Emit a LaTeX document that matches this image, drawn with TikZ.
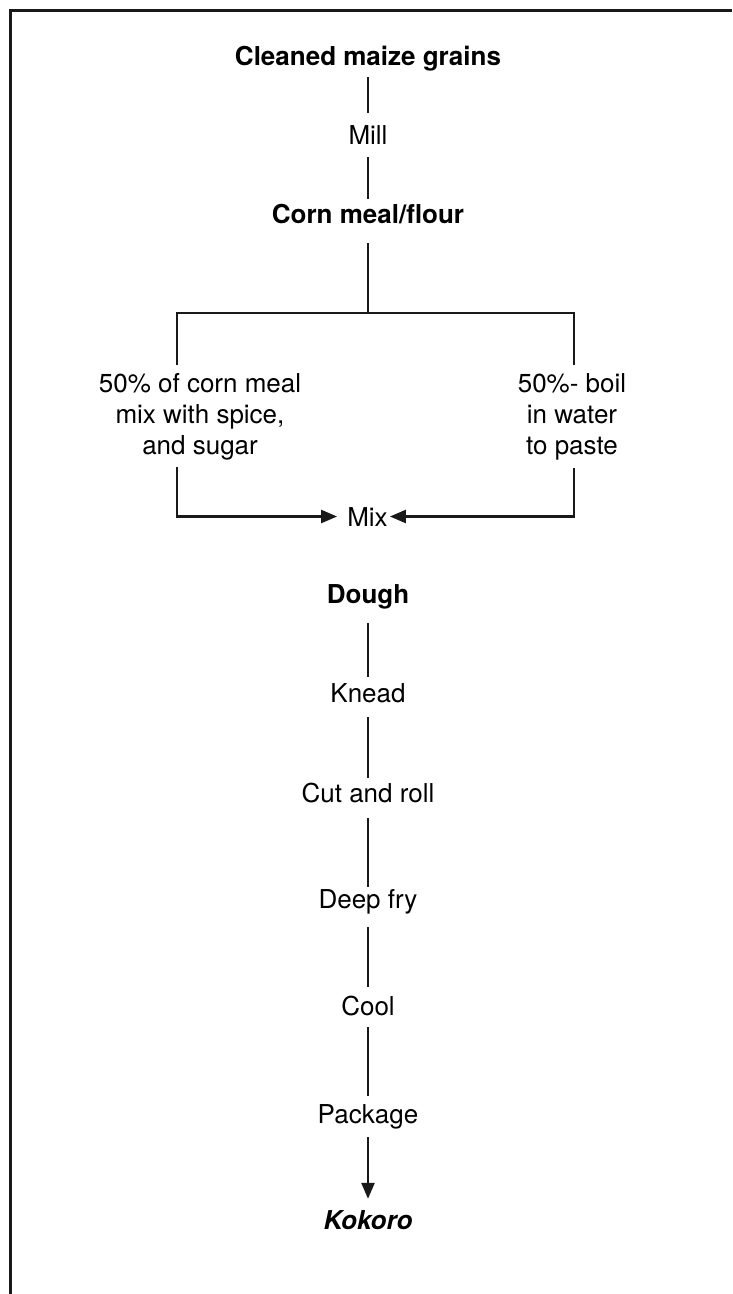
\documentclass[tikz,border=0pt]{standalone}
\usepackage{fontspec}
\setmainfont{TeX Gyre Heros}
\usetikzlibrary{arrows.meta}
\begin{document}
\begin{tikzpicture}[x=1pt,y=-1pt,
  lbl/.style={inner sep=0pt, text height=19pt, text depth=0pt, anchor=base,
              font=\fontsize{26}{31}\selectfont},
  ttl/.style={lbl, font=\fontsize{26}{31}\selectfont\bfseries},
  para/.style={inner sep=0pt, anchor=north, align=center,
               font=\fontsize{26}{31}\selectfont},
  conn/.style={line width=2.4pt, black!90},
  tip/.style={-{Triangle[length=16pt,width=13pt]}},
  frame/.style={line width=3pt, black!90}]

% page and frame
\fill[white] (0,0) rectangle (732,1294);
\useasboundingbox (0,0) rectangle (732,1294);
\draw[frame] (10,1294) -- (10,10) -- (732,10);

% upper part: milling
\node[ttl] (grains) at (368,65)  {Cleaned maize grains};
\node[lbl] (mill)   at (368,144) {Mill};
\node[ttl] (meal)   at (368,223) {Corn meal/flour};

% split into two halves
\coordinate (split) at (368,313);
\coordinate (lt) at (177,313);
\coordinate (rt) at (574,313);
\node[para] (half1) at (200,373) {50\% of corn meal\\mix with spice,\\and sugar};
\node[para] (half2) at (572,373) {50\%- boil\\in water\\to paste};
\node[lbl] (mix) at (367.5,526) {Mix};

% lower part: processing of the dough
\node[ttl] (dough)  at (368,603)  {Dough};
\node[lbl] (knead)  at (368,702)  {Knead};
\node[lbl] (cut)    at (368,802)  {Cut and roll};
\node[lbl] (fry)    at (368,908)  {Deep fry};
\node[lbl] (cool)   at (368,1015) {Cool};
\node[lbl] (pack)   at (368,1123) {Package};
\node[lbl, font=\fontsize{26}{31}\selectfont\bfseries\itshape] (kokoro) at (368,1229) {Kokoro};

% connectors
\draw[conn, shorten <=12pt, shorten >=12pt] (grains.south) -- (mill.north);
\draw[conn, shorten <=13pt, shorten >=5pt] (mill.south) -- (meal.north);
\draw[conn, shorten <=20pt] (meal.south) -- (split);
\draw[conn, shorten <=8pt] (half1.north -| lt) |- (split);
\draw[conn, shorten >=8pt] (split) -| (half2.north -| rt);
\draw[conn, tip, shorten <=7pt, shorten >=10pt] (half1.south -| lt) |- (mix);
\draw[conn, tip, shorten <=8pt, shorten >=2pt] (half2.south -| rt) |- (mix);

\draw[conn, shorten <=20pt, shorten >=6pt] (dough.south) -- (knead.north);
\draw[conn, shorten <=15pt, shorten >=5pt] (knead.south) -- (cut.north);
\draw[conn, shorten <=16pt, shorten >=2pt] (cut.south) -- (fry.north);
\draw[conn, shorten <=19pt, shorten >=9pt] (fry.south) -- (cool.north);
\draw[conn, shorten <=12pt, shorten >=8pt] (cool.south) -- (pack.north);
\draw[conn, tip, shorten <=14pt, shorten >=11pt] (pack.south) -- (kokoro.north);
\end{tikzpicture}
\end{document}
